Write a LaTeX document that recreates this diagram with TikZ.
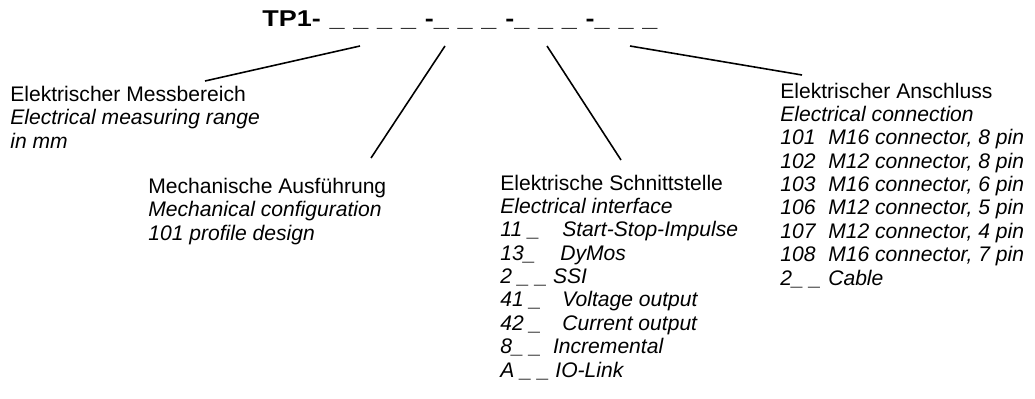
\documentclass[tikz,border=0pt]{standalone}
\usepackage{fontspec}
\setmainfont{Liberation Sans}
\newfontfamily\codefont[FakeStretch=1.18,WordSpace=1.18]{Liberation Sans}
\usetikzlibrary{positioning}

\begin{document}
\begin{tikzpicture}[
    x=0.02cm,
    y=-0.02cm,
    every node/.style={
        font=\fontsize{12pt}{13.3pt}\selectfont,
        inner sep=0pt,
        anchor=base west
    },
    typecode/.style={
        font=\codefont\fontsize{13pt}{16pt}\selectfont\bfseries
    },
    fieldtext/.style={
        align=left
    },
    leader/.style={
        line width=0.9pt,
        draw=black
    }
]

\useasboundingbox (0,0) rectangle (1035,399);

% ==========================================================
% Type code
% ==========================================================
\node[typecode] (code) at (262,27) {
    TP1- \_ \_ \_ \_ -\_ \_ \_ -\_ \_ \_ -\_ \_ \_
};

% ==========================================================
% Field descriptions (anchored at the baseline of the last line)
% ==========================================================
\node[fieldtext] (range) at (10,148) {
    Elektrischer Messbereich\\
    \textit{Electrical measuring range}\\
    \textit{in mm}
};

\node[fieldtext] (mech) at (148,240) {
    Mechanische Ausführung\\
    \textit{Mechanical configuration}\\
    \textit{101 profile design}
};

\node[fieldtext] (iface) at (500,377) {
    Elektrische Schnittstelle\\
    \textit{Electrical interface}\\
    \textit{\makebox[1.24cm][l]{11 \_}Start-Stop-Impulse}\\
    \textit{\makebox[1.2cm][l]{13\_}DyMos}\\
    \textit{2 \_ \_ SSI}\\
    \textit{\makebox[1.24cm][l]{41 \_}Voltage output}\\
    \textit{\makebox[1.24cm][l]{42 \_}Current output}\\
    \textit{8\_ \_ \ Incremental}\\
    \textit{A \_ \_ IO-Link}
};

\node[fieldtext] (conn) at (780,285) {
    Elektrischer Anschluss\\
    \textit{Electrical connection}\\
    \textit{\makebox[0.96cm][l]{101}M16 connector, 8 pin}\\
    \textit{\makebox[0.96cm][l]{102}M12 connector, 8 pin}\\
    \textit{\makebox[0.96cm][l]{103}M16 connector, 6 pin}\\
    \textit{\makebox[0.96cm][l]{106}M12 connector, 5 pin}\\
    \textit{\makebox[0.96cm][l]{107}M12 connector, 4 pin}\\
    \textit{\makebox[0.96cm][l]{108}M16 connector, 7 pin}\\
    \textit{\makebox[0.96cm][l]{2\_ \_}Cable}
};

% ==========================================================
% Leader lines
% ==========================================================
\coordinate (rangetop) at (360,46);
\coordinate (rangeend) at (205,81);
\coordinate (mechtop) at (445,46);
\coordinate (mechend) at (371,158);
\coordinate (ifacetop) at (547,46);
\coordinate (ifaceend) at (621,160);
\coordinate (conntop) at (630,46);
\coordinate (connend) at (802,75);

\draw[leader] (rangetop) -- (rangeend);
\draw[leader] (mechtop) -- (mechend);
\draw[leader] (ifacetop) -- (ifaceend);
\draw[leader] (conntop) -- (connend);

\end{tikzpicture}
\end{document}
